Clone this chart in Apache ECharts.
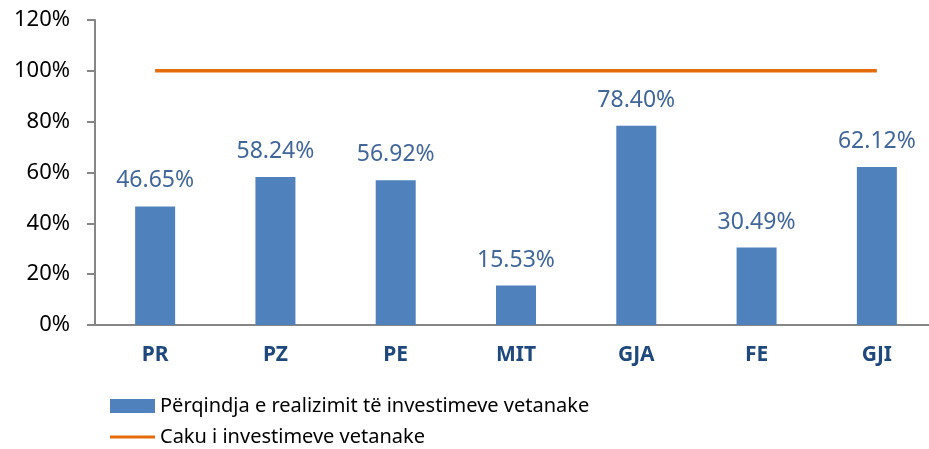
<!DOCTYPE html>
<html>
<head>
<meta charset="utf-8">
<title>Investimet vetanake</title>
<script src="https://cdn.jsdelivr.net/npm/echarts@6/dist/echarts.min.js"></script>
<style>
html, body { margin:0; height:100%; background:#fff; }
</style>
</head>
<body>
<div id="main" style="width:929px;height:449px;"></div>
<script>
// te dhenat
var categories = ['PR', 'PZ', 'PE', 'MIT', 'GJA', 'FE', 'GJI'];
var realizimi = [46.65, 58.24, 56.92, 15.53, 78.40, 30.49, 62.12];
var caku = [100, 100, 100, 100, 100, 100, 100];
var yTicks = [0, 20, 40, 60, 80, 100, 120];

var barName = 'Përqindja e realizimit të investimeve vetanake';
var lineName = 'Caku i investimeve vetanake';
var font = 'Noto Sans';

var myChart = echarts.init(document.getElementById('main'));

var option = {
    animation: false,
    grid: { left: 95, top: 20, width: 842, height: 305, outerBoundsMode: 'none', containLabel: false },
    legend: [
        {
            left: 110, top: 396, padding: 0,
            itemWidth: 45, itemHeight: 14, icon: 'rect',
            textStyle: { fontFamily: font, fontSize: 20, color: '#000' },
            data: [barName]
        },
        {
            left: 110, top: 427, padding: 0,
            itemWidth: 45, itemHeight: 3, icon: 'rect',
            textStyle: { fontFamily: font, fontSize: 20, color: '#000' },
            data: [{ name: lineName, itemStyle: { color: '#E46C0A' } }]
        }
    ],
    xAxis: {
        type: 'category',
        data: categories,
        axisLine: { lineStyle: { color: '#868686', width: 2 } },
        axisTick: { length: 8, lineStyle: { color: '#868686', width: 2 } },
        axisLabel: {
            margin: 20,
            fontFamily: font, fontSize: 21, fontWeight: 'bold', color: '#1F497D'
        }
    },
    yAxis: {
        type: 'value',
        min: yTicks[0],
        max: yTicks[yTicks.length - 1],
        interval: yTicks[1] - yTicks[0],
        axisLine: { show: true, lineStyle: { color: '#868686', width: 2 } },
        axisTick: { show: true, length: 8, lineStyle: { color: '#868686', width: 2 } },
        splitLine: { show: false },
        axisLabel: {
            margin: 25,
            fontFamily: font, fontSize: 22, color: '#000',
            formatter: '{value}%'
        }
    },
    series: [
        {
            name: barName,
            type: 'bar',
            barWidth: 40,
            itemStyle: { color: '#4F81BD' },
            label: {
                show: true,
                position: 'top',
                distance: 14,
                fontFamily: font, fontSize: 23, color: '#41679A',
                formatter: function (p) { return p.value.toFixed(2) + '%'; }
            },
            data: realizimi
        },
        {
            name: lineName,
            type: 'line',
            symbol: 'none',
            z: 5,
            lineStyle: { color: '#E46C0A', width: 3.5 },
            itemStyle: { color: '#E46C0A' },
            data: caku
        }
    ]
};

myChart.setOption(option);
</script>
</body>
</html>
